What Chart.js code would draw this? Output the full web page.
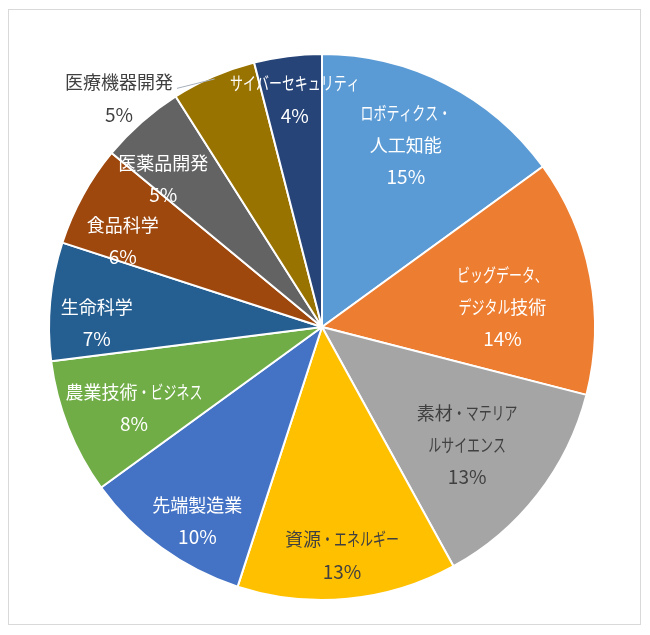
<!DOCTYPE html>
<html>
<head>
<meta charset="utf-8">
<script src="https://cdn.jsdelivr.net/npm/chart.js@4.4.0/dist/chart.umd.min.js"></script>
<style>
  body { margin: 0; background: #fff; }
  #frame { position: absolute; left: 8px; top: 9px; width: 631px; height: 614px; border: 1px solid #d9d9d9; }
  #c { position: absolute; left: 0; top: 0; }
</style>
</head>
<body>
<div id="frame"></div>
<canvas id="c" width="650" height="635"></canvas>
<script>
// data
const categories = [
  ["ロボティクス・", "人工知能"],
  ["ビッグデータ、", "デジタル技術"],
  ["素材・マテリア", "ルサイエンス"],
  ["資源・エネルギー"],
  ["先端製造業"],
  ["農業技術・ビジネス"],
  ["生命科学"],
  ["食品科学"],
  ["医薬品開発"],
  ["医療機器開発"],
  ["サイバーセキュリティ"]
];
const shares = [15, 14, 13, 13, 10, 8, 7, 6, 5, 5, 4];

const colors = ["#5B9BD5", "#ED7D31", "#A5A5A5", "#FFC000", "#4472C4", "#70AD47",
                "#255E91", "#9E480E", "#636363", "#997300", "#264478"];
const textColors = ["#fff", "#fff", "#404040", "#404040", "#fff", "#fff",
                    "#fff", "#fff", "#fff", "#404040", "#fff"];
// label placement: [angle from top in degrees, fraction of radius]
const labelPos = [[24.7, 0.735], [83.7, 0.665], [129.1, 0.685], [175, 0.84], [212.7, 0.845],
                  [246.7, 0.75], [271, 0.825], [293.3, 0.795], [313, 0.795], [318.4, 1.12], [353.2, 0.84]];
const outsideLabel = 9;

const FONT = '18px "Noto Sans CJK JP"';
const PCT_FONT = '19px "Noto Sans CJK JP"';
const LINE = 32;

function isNarrow(ch) {
  const c = ch.charCodeAt(0);
  return (c >= 0x3040 && c <= 0x30ff) || ch === "、";
}

// kana are drawn condensed to mimic the proportional kana of the original font
function lineWidth(ctx, s) {
  let w = 0;
  for (const ch of s) w += ctx.measureText(ch).width * (isNarrow(ch) ? 0.72 : 1);
  return w;
}

function drawLine(ctx, s, cx, cy) {
  const total = lineWidth(ctx, s);
  let x = cx - total / 2;
  for (const ch of s) {
    const w = ctx.measureText(ch).width * (isNarrow(ch) ? 0.72 : 1);
    ctx.fillText(ch, x, cy, w);
    x += w;
  }
  return total;
}

const labelPlugin = {
  id: "pieLabels",
  afterDatasetsDraw(chart) {
    const ctx = chart.ctx;
    const arcs = chart.getDatasetMeta(0).data;
    ctx.save();
    ctx.textAlign = "left";
    ctx.textBaseline = "middle";
    arcs.forEach((arc, i) => {
      const R = arc.outerRadius;
      const th = labelPos[i][0] * Math.PI / 180;
      const x = arc.x + labelPos[i][1] * R * Math.sin(th);
      const y = arc.y - labelPos[i][1] * R * Math.cos(th);
      const lines = categories[i].concat([shares[i] + "%"]);
      const y0 = y - (lines.length - 1) * LINE / 2;
      ctx.fillStyle = textColors[i];
      let firstW = 0;
      lines.forEach((ln, k) => {
        ctx.font = k === lines.length - 1 ? PCT_FONT : FONT;
        const w = drawLine(ctx, ln, x, y0 + k * LINE);
        if (k === 0) firstW = w;
      });
      if (i === outsideLabel) {
        const mid = (arc.startAngle + arc.endAngle) / 2;
        ctx.strokeStyle = "#a6b0ba";
        ctx.lineWidth = 1;
        ctx.beginPath();
        ctx.moveTo(x + firstW / 2 + 4, y0 + 6);
        ctx.lineTo(arc.x + Math.cos(mid) * R * 0.99, arc.y + Math.sin(mid) * R * 0.99);
        ctx.stroke();
      }
    });
    ctx.restore();
  }
};

new Chart(document.getElementById("c"), {
  type: "pie",
  data: {
    labels: categories,
    datasets: [{
      data: shares,
      backgroundColor: colors,
      borderColor: "#fff",
      borderWidth: 2
    }]
  },
  options: {
    responsive: false,
    animation: false,
    devicePixelRatio: 1,
    layout: { padding: { left: 48, right: 54, top: 53, bottom: 34 } },
    plugins: {
      legend: { display: false },
      tooltip: { enabled: false }
    }
  },
  plugins: [labelPlugin]
});
</script>
</body>
</html>
